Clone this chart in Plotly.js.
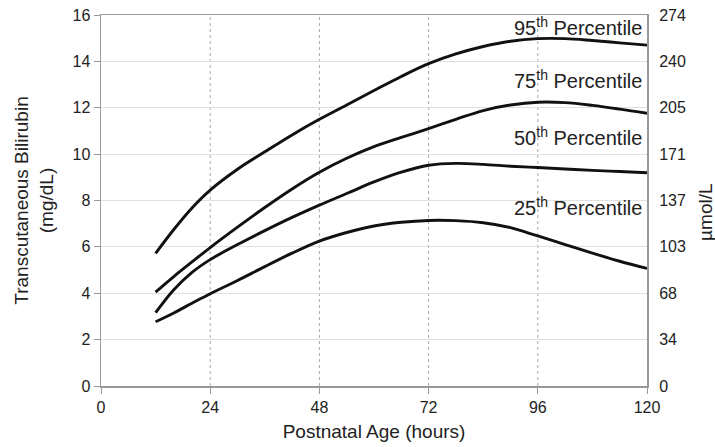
<!DOCTYPE html>
<html>
<head>
<meta charset="utf-8">
<script src="https://cdn.plot.ly/plotly-3.0.1.min.js"></script>
<style>html,body{margin:0;padding:0;background:#fff;}#chart{width:715px;height:447px;}</style>
</head>
<body>
<div id="chart"></div>
<script>
// Postnatal age (hours)
const hours = [12,16,20,24,30,36,42,48,54,60,66,72,78,84,90,96,102,108,114,120];
// Transcutaneous bilirubin (mg/dL) percentiles
const p95 = [5.72,6.75,7.68,8.45,9.35,10.1,10.83,11.5,12.12,12.74,13.35,13.9,14.32,14.64,14.87,14.98,14.98,14.9,14.8,14.7];
const p75 = [4.05,4.72,5.35,5.97,6.85,7.7,8.5,9.22,9.82,10.32,10.72,11.1,11.5,11.88,12.12,12.24,12.22,12.1,11.94,11.76];
const p50 = [3.16,4.15,4.9,5.45,6.1,6.7,7.27,7.8,8.3,8.8,9.22,9.52,9.6,9.56,9.48,9.42,9.36,9.3,9.25,9.2];
const p25 = [2.77,3.15,3.57,3.98,4.55,5.15,5.73,6.25,6.62,6.9,7.06,7.14,7.13,7.04,6.83,6.47,6.1,5.73,5.38,5.07];
const seriesNames = ["95<sup>th</sup> Percentile","75<sup>th</sup> Percentile","50<sup>th</sup> Percentile","25<sup>th</sup> Percentile"];
const labelY = [15.5,13.24,10.78,7.72];
const xTicks = [0,24,48,72,96,120];
const yTicks = [0,2,4,6,8,10,12,14,16];
const umolTicks = ["0","34","68","103","137","171","205","240","274"];

const font = "Liberation Sans, Arial, Helvetica, sans-serif";
const allSeries = [p95,p75,p50,p25];
const traces = allSeries.map((s,i)=>({
  x: hours, y: s, type:'scatter', mode:'lines', name: seriesNames[i],
  line:{color:'#111', width:2.9, shape:'spline', smoothing:1.0},
  hoverinfo:'skip', showlegend:false
}));
// invisible trace to activate right axis
traces.push({x:[0,120], y:[0,16], yaxis:'y2', type:'scatter', mode:'markers',
  marker:{opacity:0}, showlegend:false, hoverinfo:'skip'});

const vshapes = [24,48,72,96].map(v=>({type:'line', xref:'x', yref:'paper', x0:v, x1:v, y0:0, y1:1,
  line:{color:'#aaa', width:1, dash:'dot'}, layer:'below'}));

const annotations = seriesNames.map((t,i)=>({
  x:120, y:labelY[i], xref:'x', yref:'y', text:t, showarrow:false,
  xanchor:'right', yanchor:'middle', xshift:-3,
  font:{family:font, size:20, color:'#222'}
}));
annotations.push({x:1.106, y:0.469, xref:'paper', yref:'paper', text:'µmol/L', showarrow:false,
  textangle:-90, xanchor:'center', yanchor:'middle', font:{family:font, size:19, color:'#222'}});

const layout = {
  width:715, height:447,
  margin:{l:101, r:68, t:15, b:61, pad:0},
  paper_bgcolor:'#fff', plot_bgcolor:'#fff',
  font:{family:font, color:'#222', size:16},
  xaxis:{range:[0,120], tickvals:xTicks, ticktext:xTicks.map(String),
    showgrid:false, zeroline:false, showline:true, linecolor:'#999', linewidth:1.5,
    mirror:true, ticks:'outside', ticklen:6, tickcolor:'#999',
    tickfont:{size:16, color:'#222'},
    title:{text:'Postnatal Age (hours)', font:{size:19, color:'#222'}, standoff:10}},
  yaxis:{range:[0,16], tickvals:yTicks, ticktext:yTicks.map(String),
    showgrid:true, gridcolor:'#e0e0e0', gridwidth:1.2, zeroline:false,
    showline:true, linecolor:'#999', linewidth:1.5, mirror:true,
    ticks:'outside', ticklen:6, tickcolor:'#999',
    tickfont:{size:16, color:'#222'},
    title:{text:'Transcutaneous Bilirubin<br>(mg/dL)', font:{size:19, color:'#222'}, standoff:14}},
  yaxis2:{range:[0,16], overlaying:'y', side:'right', tickvals:yTicks, ticktext:umolTicks,
    showgrid:false, zeroline:false, showline:false,
    ticks:'outside', ticklen:8, tickcolor:'rgba(0,0,0,0)',
    tickfont:{size:16, color:'#222'}},
  shapes: vshapes,
  annotations: annotations
};
Plotly.newPlot('chart', traces, layout, {displayModeBar:false, staticPlot:true});
</script>
</body>
</html>
